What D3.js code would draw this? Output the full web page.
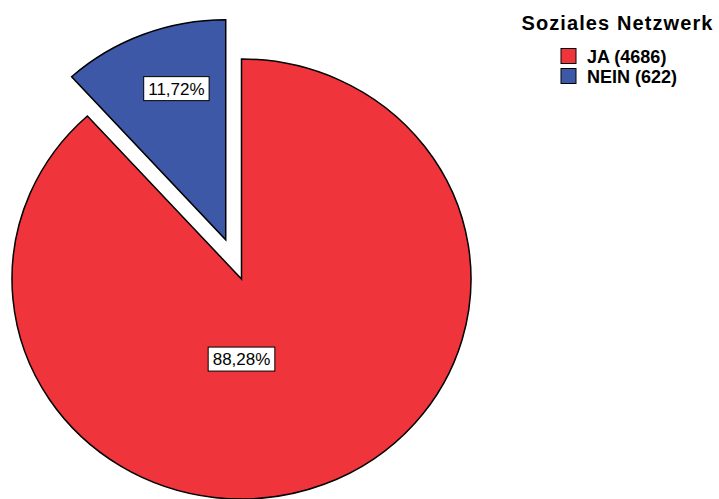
<!DOCTYPE html>
<html>
<head>
<meta charset="utf-8">
<script src="https://cdn.jsdelivr.net/npm/d3@7"></script>
<style>
  body { margin: 0; background: #fff; }
  svg { display: block; font-family: "Liberation Sans", Arial, sans-serif; }
</style>
</head>
<body>
<div id="chart"></div>
<script>
// data
const categories = ['JA', 'NEIN'];
const counts = [4686, 622];
const colors = ['#f0343c', '#3e58a8'];
const legendTitle = 'Soziales Netzwerk';

const W = 719, H = 499;
const cx = 241.5, cy = 279;
const ry = 220, sx = 229.5 / 220; // pie is slightly wider than tall
const explode = 42;

const de = d3.formatLocale({ decimal: ',', thousands: '.', grouping: [3], currency: ['', '€'] });
const fmtPct = de.format('.2%');
const total = d3.sum(counts);

const data = categories.map((c, i) => ({ cat: c, n: counts[i], color: colors[i] }));

const svg = d3.select('#chart').append('svg')
  .attr('width', W).attr('height', H);

const pie = d3.pie().sort(null).value(d => d.n);
const arc = d3.arc().innerRadius(0).outerRadius(ry);
const arcs = pie(data);

// only the smallest slice gets pulled out
const minN = d3.min(counts);
const offset = d => {
  if (d.data.n !== minN) return [0, 0];
  const mid = (d.startAngle + d.endAngle) / 2;
  return [Math.sin(mid) * explode, -Math.cos(mid) * explode];
};

const pieG = svg.append('g')
  .attr('transform', `translate(${cx},${cy}) scale(${sx},1)`);

pieG.selectAll('path')
  .data(arcs)
  .enter()
  .append('path')
  .attr('transform', d => `translate(${offset(d)})`)
  .attr('d', arc)
  .attr('fill', d => d.data.color)
  .attr('stroke', '#000')
  .attr('stroke-width', 1.5)
  .attr('stroke-linejoin', 'miter')
  .attr('vector-effect', 'non-scaling-stroke');

// percentage labels in boxes
const labelPos = d => {
  const big = d.endAngle - d.startAngle > Math.PI;
  const mid = (d.startAngle + d.endAngle) / 2;
  const a = big ? Math.PI : mid + 0.065;
  const r = (big ? 0.364 : 0.72) * ry;
  const [ox, oy] = offset(d);
  return [cx + (ox + Math.sin(a) * r) * sx, cy + oy - Math.cos(a) * r];
};

const labels = svg.selectAll('.lbl')
  .data(arcs)
  .enter()
  .append('g')
  .attr('class', 'lbl')
  .attr('transform', d => `translate(${labelPos(d)})`);

labels.append('text')
  .attr('text-anchor', 'middle')
  .attr('dy', '0.36em')
  .attr('font-size', 17)
  .attr('fill', '#000')
  .text(d => fmtPct(d.data.n / total));

labels.each(function () {
  const g = d3.select(this);
  const bb = g.select('text').node().getBBox();
  g.insert('rect', 'text')
    .attr('x', bb.x - 4.5)
    .attr('y', -12)
    .attr('width', bb.width + 9)
    .attr('height', 24)
    .attr('fill', '#fff')
    .attr('stroke', '#000')
    .attr('stroke-width', 1);
});

// legend
const legend = svg.append('g');
legend.append('text')
  .attr('x', 617.5).attr('y', 30)
  .attr('text-anchor', 'middle')
  .attr('font-size', 20)
  .attr('font-weight', 'bold')
  .attr('letter-spacing', 1.1)
  .text(legendTitle);

const items = legend.selectAll('.item')
  .data(data)
  .enter()
  .append('g')
  .attr('class', 'item')
  .attr('transform', (d, i) => `translate(561,${48.5 + i * 20})`);

items.append('rect')
  .attr('width', 15).attr('height', 15)
  .attr('fill', d => d.color)
  .attr('stroke', '#000')
  .attr('stroke-width', 1);

items.append('text')
  .attr('x', 26).attr('y', 14.5)
  .attr('font-size', 18)
  .attr('font-weight', 'bold')
  .text(d => `${d.cat} (${d.n})`);
</script>
</body>
</html>
